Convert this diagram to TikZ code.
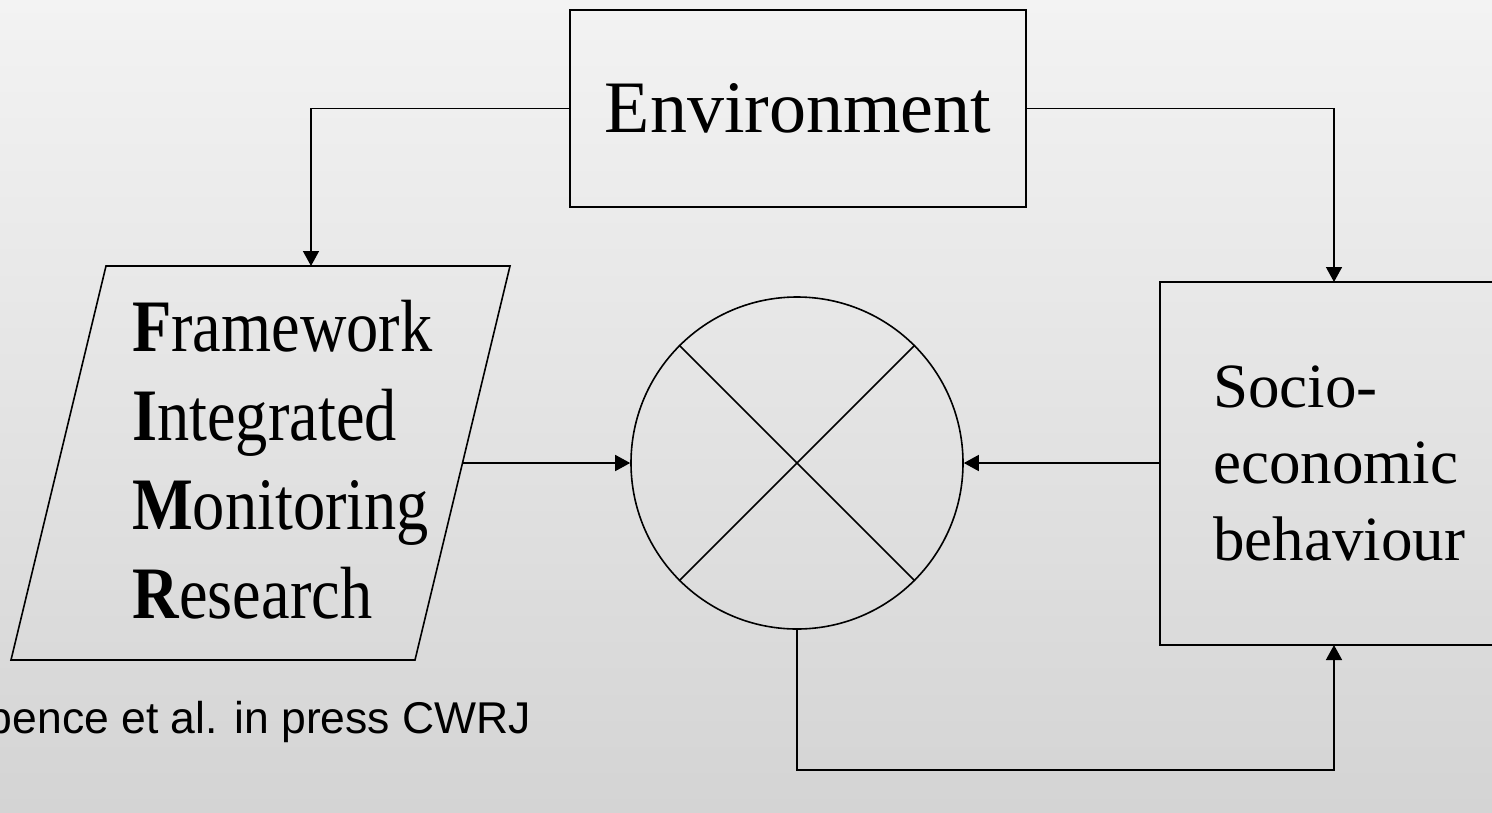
\documentclass[tikz,border=0pt]{standalone}
\usepackage{fontspec}
\setmainfont{Liberation Serif}
\newfontfamily\narrowserif[FakeStretch=0.87]{Liberation Serif}
\newfontfamily\capsans{Liberation Sans}
\usetikzlibrary{arrows.meta,shapes.geometric}
\definecolor{bgtop}{RGB}{243,243,243}
\definecolor{bgbot}{RGB}{212,212,212}
\tikzset{
  outline/.style={draw=black, line width=1.6pt},
  conn/.style={draw=black, line width=1.5pt},
  arr/.style={conn, -{Triangle[width=16pt,length=15pt]}},
}
\begin{document}
\begin{tikzpicture}[x=1pt,y=-1pt]
\useasboundingbox (0,0) rectangle (1492,812);
\shade[top color=bgtop, bottom color=bgbot] (0,0) rectangle (1492,812);
\clip (0,0) rectangle (1492,812);

% Environment box
\node[outline, rectangle, minimum width=456pt, minimum height=197pt, inner sep=0pt,
      font=\fontsize{74}{88}\selectfont] (env) at (798,108.5) {Environment};

% parallelogram FIMR
\coordinate (pTL) at (106,266);
\coordinate (pTR) at (510,266);
\coordinate (pBR) at (415,660);
\coordinate (pBL) at (11,660);
\draw[outline, line join=miter] (pTL) -- (pTR) -- (pBR) -- (pBL) -- cycle;
\coordinate (pTop) at (311,266);
\coordinate (pRight) at (463,463);
\node[anchor=base west, align=left, inner sep=0pt,
      font=\narrowserif\fontsize{74}{88.7}\selectfont] (fimr) at (132,618)
  {\textbf{F}ramework\\\textbf{I}ntegrated\\\textbf{M}onitoring\\\textbf{R}esearch};

% comparator circle
\node[outline, circle, minimum size=332pt, inner sep=0pt] (mix) at (797,463) {};
\draw[conn] (mix.45) -- (mix.225);
\draw[conn] (mix.135) -- (mix.-45);

% Socio-economic box
\node[outline, rectangle, minimum width=400pt, minimum height=363pt, inner sep=0pt] (socio) at (1360,463.5) {};
\node[anchor=base west, align=left, inner sep=0pt,
      font=\fontsize{63}{76.5}\selectfont] (sociotext) at (1213,560)
  {Socio-\\economic\\behaviour};
\coordinate (sTop) at (1334,282);
\coordinate (sBot) at (1334,645);
\coordinate (loop) at (797,770);

% connectors
\draw[arr] (env.west) -| (pTop);
\draw[arr] (env.east) -| (sTop);
\draw[arr] (pRight) -- (mix.west);
\draw[arr] (socio.west |- mix.east) -- (mix.east);
\draw[arr] (mix.south) -- (loop) -| (sBot);

% citation
\node[anchor=base west, inner sep=0pt, font=\capsans\fontsize{44.5}{52}\selectfont] (cite) at (-42,733)
  {Spence et al. in press CWRJ};
\end{tikzpicture}
\end{document}
